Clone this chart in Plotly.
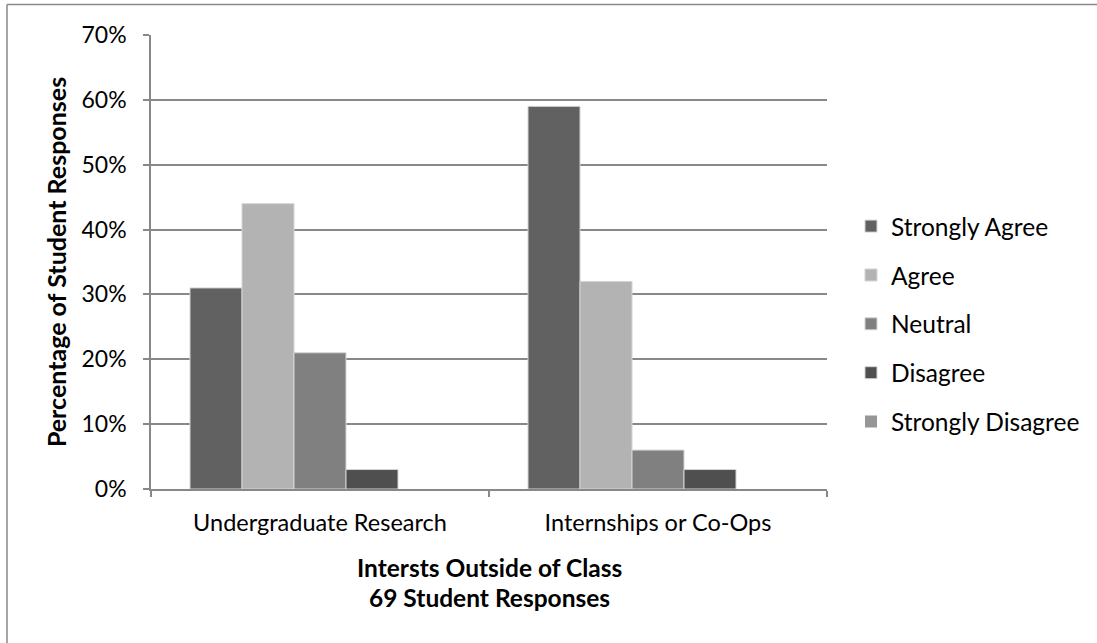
import plotly.graph_objects as go

# Survey data: share of 69 students per response level
categories = ["Undergraduate Research", "Internships or Co-Ops"]
responses = ["Strongly Agree", "Agree", "Neutral", "Disagree", "Strongly Disagree"]
strongly_agree = [0.31, 0.59]
agree = [0.44, 0.32]
neutral = [0.21, 0.06]
disagree = [0.03, 0.03]
strongly_disagree = [0.00, 0.00]
y_ticks = [0, 0.1, 0.2, 0.3, 0.4, 0.5, 0.6, 0.7]
y_tick_labels = ["0%", "10%", "20%", "30%", "40%", "50%", "60%", "70%"]
x_title_lines = ["Intersts Outside of Class", "69 Student Responses"]

series = [strongly_agree, agree, neutral, disagree, strongly_disagree]
colors = ["#616161", "#b3b3b3", "#808080", "#4f4f4f", "#969696"]

FONT = "Lato"
AXIS_GRAY = "#888888"

fig = go.Figure()
for i, (name, vals, col) in enumerate(zip(responses, series, colors)):
    edge = 0 if max(vals) == 0 else 1
    fig.add_trace(go.Bar(
        x=categories, y=vals, name=name,
        marker=dict(color=col, line=dict(color="#d4d4d4", width=edge)),
        legendgroup=f"g{i}",
    ))

# two-line x-axis title placed below the category labels
x_title_annotations = [
    dict(text=f"<b>{line}</b>", xref="paper", yref="paper",
         x=0.5, y=yy, xanchor="center", yanchor="middle", showarrow=False,
         font=dict(family=FONT, size=24.5, color="black"))
    for line, yy in zip(x_title_lines, [-0.174, -0.240])
]

fig.update_layout(
    width=1097, height=643,
    margin=dict(l=151, r=270, t=35, b=154, autoexpand=False),
    paper_bgcolor="white", plot_bgcolor="white",
    barmode="group", bargap=0.2308, bargroupgap=0,
    font=dict(family=FONT, size=23, color="black"),
    showlegend=True,
    legend=dict(
        x=1.0355, y=0.363, xanchor="left", yanchor="middle",
        font=dict(family=FONT, size=24.5, color="black"),
        tracegroupgap=14, itemwidth=30,
        bgcolor="rgba(0,0,0,0)",
    ),
    xaxis=dict(
        type="category", categoryarray=categories,
        showline=True, linecolor=AXIS_GRAY, linewidth=1.5,
        ticks="outside", tickson="boundaries", ticklen=6,
        tickcolor=AXIS_GRAY, tickwidth=1.5,
        showgrid=False,
        tickfont=dict(family=FONT, size=23.5),
        ticklabelstandoff=12,
    ),
    yaxis=dict(
        range=[0, 0.7],
        tickvals=y_ticks, ticktext=y_tick_labels,
        showline=True, linecolor=AXIS_GRAY, linewidth=1.5,
        ticks="outside", ticklen=6, tickcolor=AXIS_GRAY, tickwidth=1.5,
        showgrid=True, gridcolor=AXIS_GRAY, gridwidth=1.5,
        zeroline=False,
        tickfont=dict(family=FONT, size=23),
        ticklabelstandoff=12,
        title=dict(
            text="<b>Percentage of Student Responses</b>",
            font=dict(family=FONT, size=25), standoff=8,
        ),
    ),
    annotations=x_title_annotations,
    shapes=[
        # chart frame (top and left edges fall inside the page)
        dict(type="line", xref="paper", yref="paper",
             x0=-0.2130, x1=1.40, y0=1.067, y1=1.067,
             line=dict(color=AXIS_GRAY, width=1.5)),
        dict(type="line", xref="paper", yref="paper",
             x0=-0.2130, x1=-0.2130, y0=1.067, y1=-0.36,
             line=dict(color=AXIS_GRAY, width=1.5)),
    ],
)

fig.write_html("out.html")
